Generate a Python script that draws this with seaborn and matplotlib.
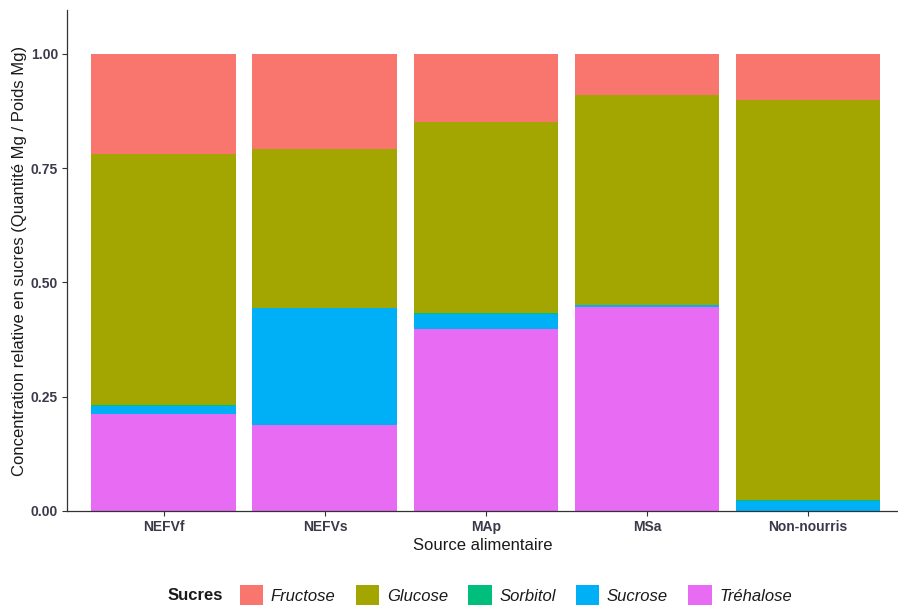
import matplotlib
matplotlib.use("Agg")
import matplotlib.pyplot as plt
from matplotlib.patches import Patch
import numpy as np
import pandas as pd
import seaborn as sns

# Relative sugar concentrations per food source
sources = ["NEFVf", "NEFVs", "MAp", "MSa", "Non-nourris"]
sugars = ["Fructose", "Glucose", "Sorbitol", "Sucrose", "Tréhalose"]
fructose = [0.219, 0.208, 0.148, 0.091, 0.101]
glucose = [0.550, 0.348, 0.419, 0.458, 0.874]
sorbitol = [0.002, 0.001, 0.002, 0.001, 0.003]
sucrose = [0.017, 0.254, 0.033, 0.003, 0.022]
trehalose = [0.212, 0.189, 0.398, 0.447, 0.000]
colors = ["#F8766D", "#A3A500", "#00BF7D", "#00B0F6", "#E76BF3"]

values = {"Fructose": fructose, "Glucose": glucose, "Sorbitol": sorbitol,
          "Sucrose": sucrose, "Tréhalose": trehalose}

df = pd.DataFrame(values, index=sources)
# stack from the bottom: Tréhalose, Sucrose, Sorbitol, Glucose, Fructose
stack_order = sugars[::-1]
cum = df[stack_order].cumsum(axis=1)

sns.set_theme(style="ticks")
plt.rcParams["font.family"] = ["Liberation Sans", "DejaVu Sans"]

fig = plt.figure(figsize=(8.98, 6.07), dpi=100)
ax = fig.add_axes([67 / 898, 96 / 607, (898 - 67) / 898, (511 - 10) / 607])

# draw cumulative totals from the top of the stack down so each layer shows
for sugar in sugars:
    col = colors[sugars.index(sugar)]
    d = pd.DataFrame({"Source": sources, "Total": cum[sugar].values})
    sns.barplot(data=d, x="Source", y="Total", order=sources, color=col,
                width=0.9, saturation=1, ax=ax, linewidth=0, zorder=2)

ax.set_xlim(-0.602, 4.559)
ax.set_ylim(0, 1.096)
ax.set_yticks([0, 0.25, 0.5, 0.75, 1.0])
ax.set_yticklabels(["0.00", "0.25", "0.50", "0.75", "1.00"])

tick_col = "#3a3a4a"
for lab in ax.get_yticklabels() + ax.get_xticklabels():
    lab.set_fontweight("bold")
    lab.set_fontsize(10)
    lab.set_color(tick_col)

ax.tick_params(axis="both", length=3.5, width=0.8, color="#333333", pad=3)
for side in ["top", "right"]:
    ax.spines[side].set_visible(False)
for side in ["left", "bottom"]:
    ax.spines[side].set_color("#333333")
    ax.spines[side].set_linewidth(0.9)

ax.set_xlabel("Source alimentaire", fontsize=12, color="#1a1a1a", labelpad=3)
ax.set_ylabel("Concentration relative en sucres (Quantité Mg / Poids Mg)",
              fontsize=12, color="#1a1a1a", labelpad=3)
ax.grid(False)

# legend along the bottom
handles = [Patch(facecolor=c, edgecolor="none") for c in colors]
leg = fig.legend(handles, sugars, loc="center", bbox_to_anchor=(516 / 898, 1 - 595 / 607),
                 ncol=5, frameon=False, fontsize=12, handlelength=1.4, handleheight=1.4,
                 handletextpad=0.45, columnspacing=1.22)
for t in leg.get_texts():
    t.set_fontstyle("italic")
    t.set_color("#1a1a1a")
fig.text(168 / 898, 1 - 595 / 607, "Sucres", fontsize=12, fontweight="bold",
         va="center", ha="left", color="#1a1a1a")

fig.savefig("out.png", dpi=100)
